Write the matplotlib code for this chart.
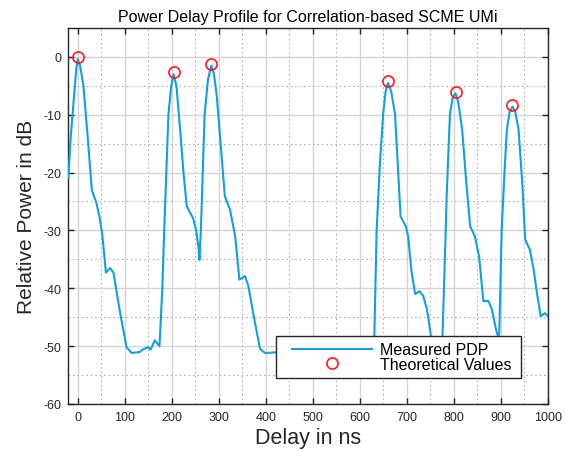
import matplotlib
matplotlib.use("Agg")
import matplotlib.pyplot as plt
from matplotlib.ticker import MultipleLocator
from matplotlib.legend_handler import HandlerLine2D

plt.rcParams['font.family'] = ['Liberation Sans', 'DejaVu Sans']
plt.rcParams['axes.unicode_minus'] = False

# Measured PDP (delay in ns, relative power in dB)
delay_ns = [-20, -15, -8, -3, 0, 5, 12, 20, 30, 40, 47, 52, 60, 69, 76, 90, 104, 115,
            132, 140, 150, 155, 164, 174, 180, 184, 193, 199, 204, 210, 218, 225, 232,
            246, 252, 257, 259, 262, 266, 270, 277, 284, 290, 296, 305, 313, 324, 335,
            344, 356, 363, 377, 388, 399, 416, 440, 480, 520, 560, 600, 620, 628, 631,
            636, 643, 650, 655, 660, 667, 675, 687, 698, 703, 710, 718, 727, 735, 743,
            752, 760, 768, 773, 776, 783, 785, 792, 798, 804, 810, 818, 827, 835, 845,
            854, 863, 874, 881, 890, 895, 897, 902, 908, 913, 919, 925, 931, 938, 946,
            952, 962, 970, 977, 985, 994, 1000]
power_db = [-20.9, -14, -7, -2, -0.4, -1.5, -4.9, -12.6, -23, -25.3, -28, -30.5, -37.3,
            -36.5, -37.3, -44.2, -50.2, -51.2, -51.0, -50.5, -50.2, -50.6, -49.0, -50.0,
            -40, -30, -10, -5, -3.0, -5, -12.6, -20, -25.8, -28, -30, -33, -35.1, -30,
            -20, -10, -4, -1.5, -3, -6.9, -16, -24.1, -26.4, -31, -38.5, -37.9, -39.6,
            -45.9, -50.5, -51.2, -51.1, -51.0, -51.2, -51.5, -51.3, -51.5, -51.0, -49.0,
            -48.5, -30, -18.4, -9.8, -6, -4.5, -6, -9.8, -27.6, -29.3, -31, -37, -41,
            -40.5, -41.3, -43.6, -48.5, -52, -52.5, -51, -48.5, -30, -24.1, -9.8, -7,
            -6.3, -8, -12.6, -22, -29.3, -31, -34.5, -42.2, -42.2, -43.6, -47.1, -48.5,
            -47.6, -30, -20, -12.6, -9.5, -8.6, -9.5, -12.6, -22, -31.6, -33.3, -36.7,
            -40.8, -44.8, -44.3, -44.8]

# Theoretical values
theo_delay_ns = [0, 204, 284, 660, 804, 925]
theo_power_db = [0, -2.7, -1.3, -4.2, -6.0, -8.4]

fig = plt.figure(figsize=(5.66, 4.52), dpi=100)
ax = fig.add_axes([0.1207, 0.104, 0.847, 0.832])

l1, = ax.plot(delay_ns, power_db, color='#12a0dc', lw=1.5, label='Measured PDP', zorder=3)
l2, = ax.plot(theo_delay_ns, theo_power_db, 'o', mfc='none', mec='#ff1a1a', mew=1.2, ms=8,
              label='Theoretical Values', zorder=4)

ax.set_xlim(-20, 1000)
ax.set_ylim(-60, 5)
ax.xaxis.set_major_locator(MultipleLocator(100))
ax.xaxis.set_minor_locator(MultipleLocator(50))
ax.yaxis.set_major_locator(MultipleLocator(10))
ax.yaxis.set_minor_locator(MultipleLocator(5))
ax.grid(which='major', color='#d4d4d4', lw=1.0, ls='-', zorder=0)
ax.grid(which='minor', color='#b0b0b0', lw=0.8, ls=(0, (1.5, 2.5)), zorder=0)
ax.set_axisbelow(True)
ax.tick_params(which='major', direction='in', length=4, width=1, top=True, right=True,
               labelsize=9, colors='#262626', pad=5)
ax.tick_params(which='minor', length=0)
for s in ax.spines.values():
    s.set_color('#262626')
    s.set_linewidth(1.0)

ax.set_title('Power Delay Profile for Correlation-based SCME UMi', fontsize=11.5, pad=5)
ax.set_xlabel('Delay in ns', fontsize=15.5, color='#262626')
ax.xaxis.set_label_coords(0.5, -0.062, transform=ax.transAxes)
ax.xaxis.label.set_va('top')
ax.set_ylabel('Relative Power in dB', fontsize=15, color='#262626', labelpad=5)

hmap = {l1: HandlerLine2D(xpad=0.6), l2: HandlerLine2D(xpad=0.6)}
leg = ax.legend(handles=[l1, l2], handler_map=hmap,
                loc='lower left', bbox_to_anchor=(0.433, 0.069, 0.511, 0.11),
                mode='expand', borderaxespad=0,
                fontsize=11.5, handlelength=5.6, fancybox=False, framealpha=1,
                edgecolor='#262626', borderpad=0.4, labelspacing=-0.05,
                handletextpad=0.5)
leg.get_frame().set_linewidth(1.0)

fig.savefig('out.png', dpi=100)
